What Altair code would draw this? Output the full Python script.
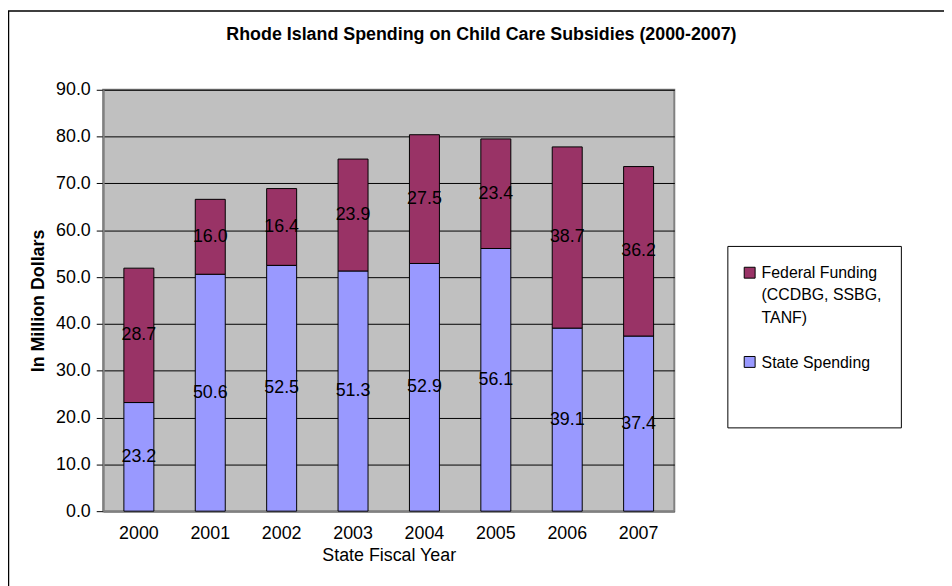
import altair as alt
import pandas as pd

years = ["2000", "2001", "2002", "2003", "2004", "2005", "2006", "2007"]
state = [23.2, 50.6, 52.5, 51.3, 52.9, 56.1, 39.1, 37.4]
federal = [28.7, 16.0, 16.4, 23.9, 27.5, 23.4, 38.7, 36.2]
series = ["Federal Funding|(CCDBG, SSBG,|TANF)", "State Spending"]
colors = ["#993366", "#9999FF"]
title_text = "Rhode Island Spending on Child Care Subsidies (2000-2007)"

rows = []
for y, s, f in zip(years, state, federal):
    rows.append({"year": y, "series": series[1], "value": s, "start": 0.0, "end": s,
                 "mid": s / 2, "order": 0})
    rows.append({"year": y, "series": series[0], "value": f, "start": s, "end": s + f,
                 "mid": s + f / 2, "order": 1})
df = pd.DataFrame(rows)
one = pd.DataFrame({"k": [0]})

FONT = "Liberation Sans"
W, H = 576, 425

xenc = alt.X("year:N", title="State Fiscal Year",
             scale=alt.Scale(paddingInner=0.58, paddingOuter=0.29),
             axis=alt.Axis(labelAngle=0, ticks=False, domain=True, domainColor="#808080",
                           domainWidth=2, labelPadding=14, titlePadding=4,
                           labelFontSize=18, titleFontSize=18, titleFontWeight="normal",
                           labelColor="black", titleColor="black"))

bars = alt.Chart(df).mark_bar(stroke="black", strokeWidth=1).encode(
    x=xenc,
    y=alt.Y("start:Q", title="In Million Dollars",
            scale=alt.Scale(domain=[0, 90]),
            axis=alt.Axis(values=[0, 10, 20, 30, 40, 50, 60, 70, 80, 90], format=".1f",
                          tickColor="black", tickSize=7, domainColor="#808080", domainWidth=2,
                          gridColor="black", gridWidth=1, labelPadding=6,
                          labelFontSize=18, titleFontSize=18, titleFontWeight="bold",
                          titlePadding=8, labelColor="black", titleColor="black")),
    y2="end:Q",
    color=alt.Color("series:N", scale=alt.Scale(domain=series, range=colors), legend=None),
    order=alt.Order("order:Q"),
)

labels = alt.Chart(df).mark_text(fontSize=18, font=FONT, color="black", baseline="middle").encode(
    x=alt.X("year:N"),
    y=alt.Y("mid:Q"),
    text=alt.Text("value:Q", format=".1f"),
)

frame = alt.Chart(one).mark_rect(fill=None, stroke="black", strokeWidth=1.5).encode(
    x=alt.value(-95.5), x2=alt.value(900), y=alt.value(-79.5), y2=alt.value(520))

title = alt.Chart(one).mark_text(fontSize=18, font=FONT, fontWeight="bold", color="black",
                                 baseline="middle", align="center").encode(
    x=alt.value(381.5), y=alt.value(-55), text=alt.value(title_text))

legbox = alt.Chart(one).mark_rect(fill="white", stroke="black", strokeWidth=1).encode(
    x=alt.value(630), x2=alt.value(805), y=alt.value(158), y2=alt.value(341))

leg_layers = []
for i, (name, col) in enumerate(zip(series, colors)):
    sy = 184.5 if i == 0 else 274.5
    ty = 190 if i == 0 else 281
    leg_layers.append(alt.Chart(one).mark_square(size=121, fill=col, opacity=1,
                                                 stroke="black", strokeWidth=1).encode(
        x=alt.value(652), y=alt.value(sy)))
    leg_layers.append(alt.Chart(one).mark_text(fontSize=16, font=FONT, color="black",
                                               align="left", baseline="alphabetic",
                                               lineBreak="|", lineHeight=22.5).encode(
        x=alt.value(664), y=alt.value(ty), text=alt.value(name)))

chart = alt.layer(frame, title, legbox, bars, labels, *leg_layers).properties(
    width=W, height=H,
    padding={"left": 96, "top": 80, "right": 272, "bottom": 73},
    autosize=alt.AutoSizeParams(type="none"),
).configure(font=FONT).configure_view(
    fill="#C0C0C0", stroke="#808080", strokeWidth=2
).configure_axis(labelFont=FONT, titleFont=FONT)

chart.save("out.html", embed_options={"renderer": "svg", "actions": False})
